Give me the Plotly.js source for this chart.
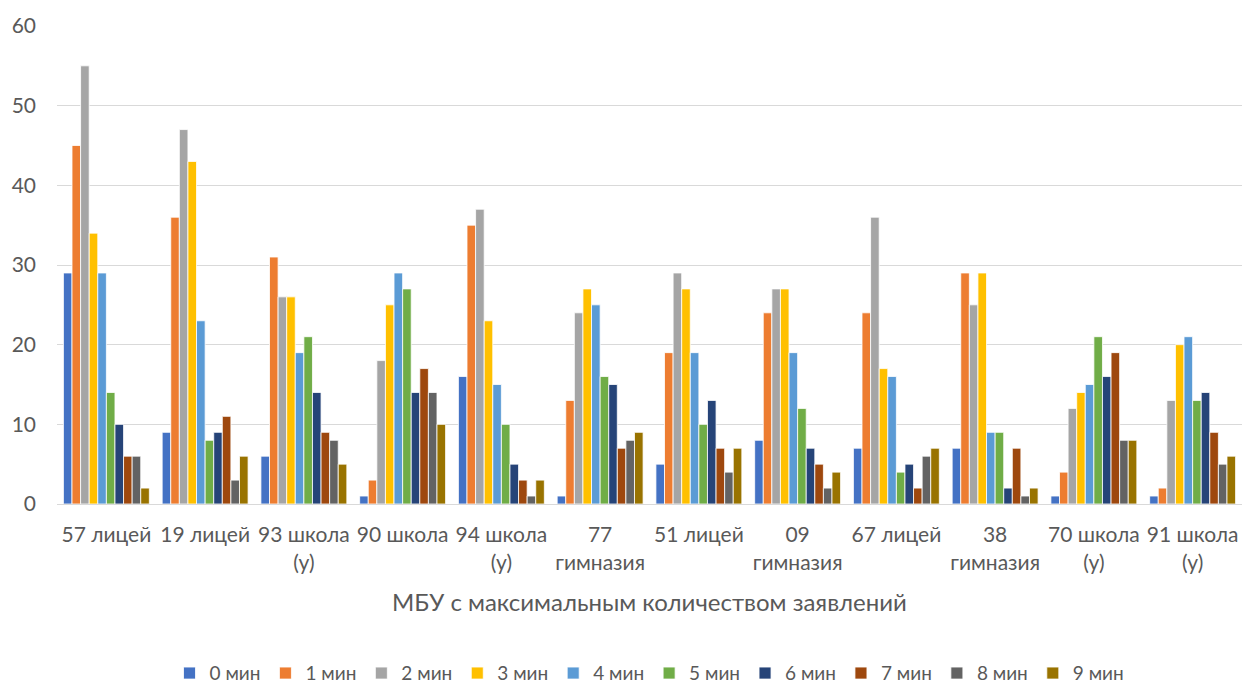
<!DOCTYPE html>
<html>
<head>
<meta charset="utf-8">
<script src="https://cdn.plot.ly/plotly-3.0.1.min.js"></script>
<style>html,body{margin:0;padding:0;background:#fff;}#chart{width:1247px;height:683px;}</style>
</head>
<body>
<div id="chart"></div>
<script>
const categories = ["57 лицей","19 лицей","93 школа<br>(у)","90 школа","94 школа<br>(у)","77<br>гимназия","51 лицей","09<br>гимназия","67 лицей","38<br>гимназия","70 школа<br>(у)","91 школа<br>(у)"];
const seriesNames = ["0 мин","1 мин","2 мин","3 мин","4 мин","5 мин","6 мин","7 мин","8 мин","9 мин"];
const min0 = [29, 9, 6, 1, 16, 1, 5, 8, 7, 7, 1, 1];
const min1 = [45, 36, 31, 3, 35, 13, 19, 24, 24, 29, 4, 2];
const min2 = [55, 47, 26, 18, 37, 24, 29, 27, 36, 25, 12, 13];
const min3 = [34, 43, 26, 25, 23, 27, 27, 27, 17, 29, 14, 20];
const min4 = [29, 23, 19, 29, 15, 25, 19, 19, 16, 9, 15, 21];
const min5 = [14, 8, 21, 27, 10, 16, 10, 12, 4, 9, 21, 13];
const min6 = [10, 9, 14, 14, 5, 15, 13, 7, 5, 2, 16, 14];
const min7 = [6, 11, 9, 17, 3, 7, 7, 5, 2, 7, 19, 9];
const min8 = [6, 3, 8, 14, 1, 8, 4, 2, 6, 1, 8, 5];
const min9 = [2, 6, 5, 10, 3, 9, 7, 4, 7, 2, 8, 6];
const allSeries = [min0,min1,min2,min3,min4,min5,min6,min7,min8,min9];
const colors = ["#4472C4","#ED7D31","#A5A5A5","#FFC000","#5B9BD5","#70AD47","#264478","#9E480E","#636363","#997300"];

const font = "Lato, 'Open Sans', sans-serif";
const traces = allSeries.map((vals, i) => ({
  type: 'bar',
  name: seriesNames[i],
  x: categories,
  y: vals,
  marker: {color: colors[i], line: {color: '#ffffff', width: 0.8}},
  hoverinfo: 'x+y+name'
}));

const layout = {
  width: 1247, height: 683,
  margin: {l: 57, r: 5, t: 26, b: 179, autoexpand: false},
  paper_bgcolor: '#ffffff', plot_bgcolor: '#ffffff',
  barmode: 'group', bargap: 0.13, bargroupgap: 0,
  font: {family: font, color: '#595959', size: 21},
  xaxis: {
    type: 'category',
    showgrid: false, showline: true, linecolor: '#d9d9d9', linewidth: 1,
    ticks: '', tickfont: {size: 21, color: '#595959'},
    ticklabelstandoff: 12,
    title: {text: 'МБУ с максимальным количеством заявлений', font: {size: 24, color: '#595959'}, standoff: 21},
    automargin: false
  },
  yaxis: {
    range: [0, 60], dtick: 10,
    showgrid: true, gridcolor: '#d9d9d9', gridwidth: 1,
    zeroline: false, showline: false, ticks: '',
    tickfont: {size: 21, color: '#595959'},
    ticklabelstandoff: 20,
    automargin: false
  },
  showlegend: true,
  legend: {
    orientation: 'h', x: 0.5, xanchor: 'center', y: -0.354, yanchor: 'middle',
    font: {size: 19, color: '#595959'}, itemwidth: 30, tracegroupgap: 0,
    traceorder: 'normal'
  }
};

Plotly.newPlot('chart', traces, layout, {displayModeBar: false, staticPlot: true});
</script>
</body>
</html>
